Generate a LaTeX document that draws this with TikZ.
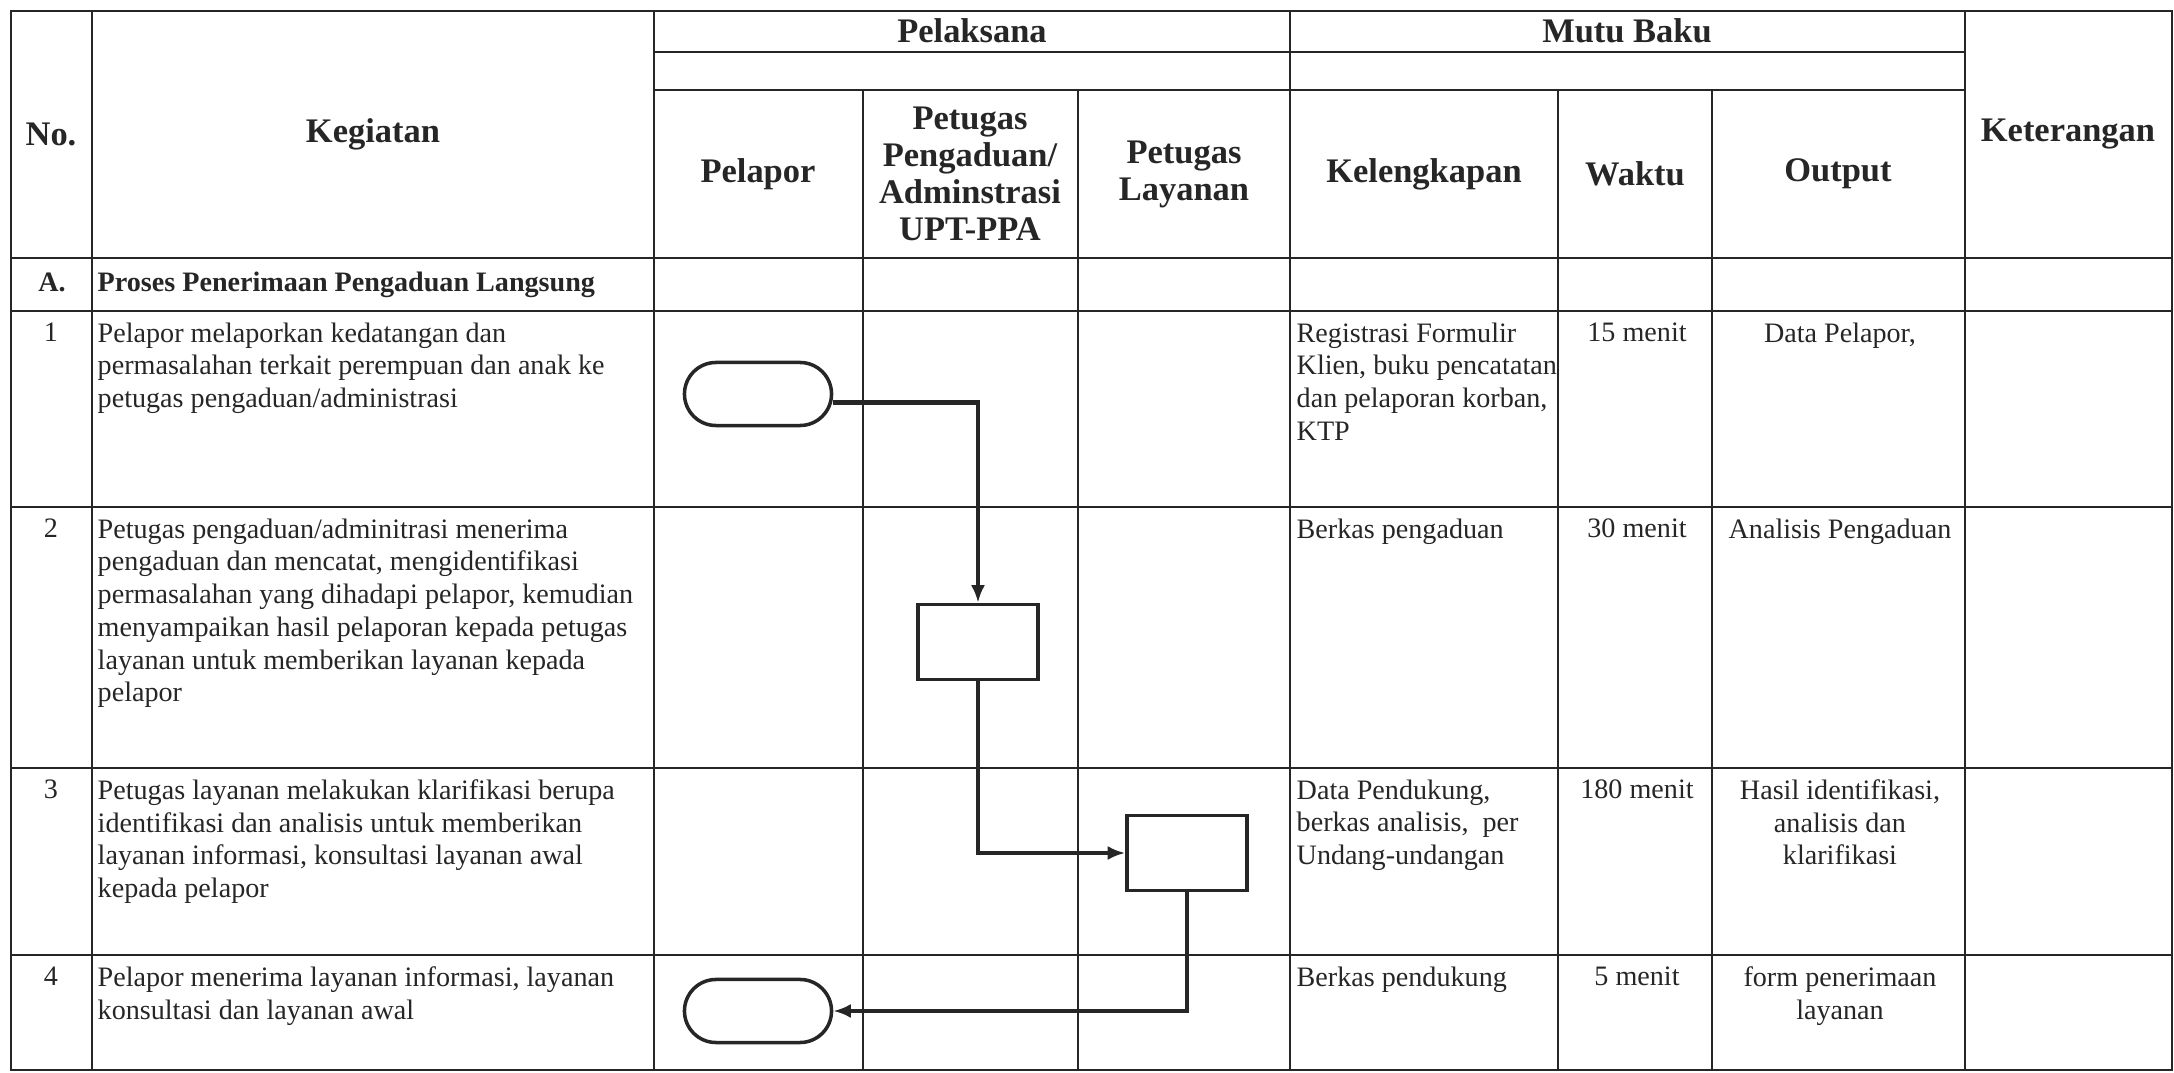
\documentclass[tikz,border=0pt]{standalone}
\usepackage{fontspec}
\setmainfont{Liberation Serif}
\usetikzlibrary{arrows.meta,shapes.misc}

\begin{document}
\begin{tikzpicture}[x=0.01cm,y=-0.01cm,
    grid/.style={line width=0.7pt,black!85},
    head/.style={font=\fontsize{9.8}{10.5}\selectfont\bfseries,align=center,inner sep=0pt,text=black!85},
    body/.style={font=\fontsize{8}{9.3}\selectfont,align=left,inner sep=0pt,text=black!85},
    term/.style={draw=black!85,line width=1pt,rounded rectangle,minimum width=1.47cm,minimum height=0.63cm,inner sep=0pt},
    proc/.style={draw=black!85,line width=1pt,rectangle,minimum width=1.2cm,minimum height=0.75cm,inner sep=0pt},
    flow/.style={line width=1.3pt,black!85,-{Latex[length=5pt,width=4pt]}}]

    \useasboundingbox (0,0) rectangle (2174,1073);

    % Frame and the lines of the table
    \draw[grid] (11,11) rectangle (2172,1070);
    \foreach \y in {52,90} {
        \draw[grid] (654,\y) -- (1965,\y);
    }
    \foreach \y in {258,311,507,768,955} {
        \draw[grid] (11,\y) -- (2172,\y);
    }
    \foreach \x in {92,654,1290,1965} {
        \draw[grid] (\x,11) -- (\x,1070);
    }
    \foreach \x in {863,1078,1558,1712} {
        \draw[grid] (\x,90) -- (\x,1070);
    }

    % Column heads
    \node[head] (hno) at (51,134) {No.};
    \node[head] (hkeg) at (373,134) {Kegiatan};
    \node[head] (hpel) at (972,31) {Pelaksana};
    \node[head] (hmutu) at (1627,31) {Mutu Baku};
    \node[head] (hlapor) at (758,174) {Pelapor};
    \node[head] (hadu) at (970,174) {Petugas\\Pengaduan/\\Adminstrasi\\UPT-PPA};
    \node[head] (hlay) at (1184,174) {Petugas\\Layanan};
    \node[head] (hkel) at (1424,174) {Kelengkapan};
    \node[head] (hwkt) at (1635,174) {Waktu};
    \node[head] (hout) at (1838,174) {Output};
    \node[head] (hket) at (2068,134) {Keterangan};

    % Section A
    \node[body,font=\fontsize{8}{9.3}\selectfont\bfseries,anchor=base] (noA) at (52,292) {A.};
    \node[body,font=\fontsize{8}{9.3}\selectfont\bfseries,anchor=base west] (kegA) at (97,292) {Proses Penerimaan Pengaduan Langsung};

    % Numbers and times
    \foreach \i/\y/\w in {1/322/15 menit, 2/518/30 menit, 3/779/180 menit, 4/966/5 menit} {
        \node[body,anchor=north] (no\i) at (51,\y) {\i};
        \node[body,anchor=north] (wkt\i) at (1637,\y) {\w};
    }

    % Activities
    \node[body,anchor=north west] (keg1) at (97,322) {Pelapor melaporkan kedatangan dan\\permasalahan terkait perempuan dan anak ke\\petugas pengaduan/administrasi};
    \node[body,anchor=north west] (keg2) at (97,518) {Petugas pengaduan/adminitrasi menerima\\pengaduan dan mencatat, mengidentifikasi\\permasalahan yang dihadapi pelapor, kemudian\\menyampaikan hasil pelaporan kepada petugas\\layanan untuk memberikan layanan kepada\\pelapor};
    \node[body,anchor=north west] (keg3) at (97,779) {Petugas layanan melakukan klarifikasi berupa\\identifikasi dan analisis untuk memberikan\\layanan informasi, konsultasi layanan awal\\kepada pelapor};
    \node[body,anchor=north west] (keg4) at (97,966) {Pelapor menerima layanan informasi, layanan\\konsultasi dan layanan awal};

    % Kelengkapan
    \node[body,anchor=north west] (kel1) at (1296,322) {Registrasi Formulir\\Klien, buku pencatatan\\dan pelaporan korban,\\KTP};
    \node[body,anchor=north west] (kel2) at (1296,518) {Berkas pengaduan};
    \node[body,anchor=north west] (kel3) at (1296,779) {Data Pendukung,\\berkas analisis,\ \ per\\Undang-undangan};
    \node[body,anchor=north west] (kel4) at (1296,966) {Berkas pendukung};

    % Output
    \node[body,align=center,anchor=north] (out1) at (1840,322) {Data Pelapor,};
    \node[body,align=center,anchor=north] (out2) at (1840,518) {Analisis Pengaduan};
    \node[body,align=center,anchor=north] (out3) at (1840,779) {Hasil identifikasi,\\analisis dan\\klarifikasi};
    \node[body,align=center,anchor=north] (out4) at (1840,966) {form penerimaan\\layanan};

    % Flow
    \node[term] (lapor1) at (758,394) {};
    \node[proc] (aduan) at (978,642) {};
    \node[proc] (layan) at (1187,853) {};
    \node[term] (lapor2) at (758,1011) {};

    \draw[flow] ([yshift=-2.4pt]lapor1.east) -| (aduan.north);
    \draw[flow] (aduan.south) |- (layan.west);
    \draw[flow] (layan.south) |- (lapor2.east);

\end{tikzpicture}
\end{document}
